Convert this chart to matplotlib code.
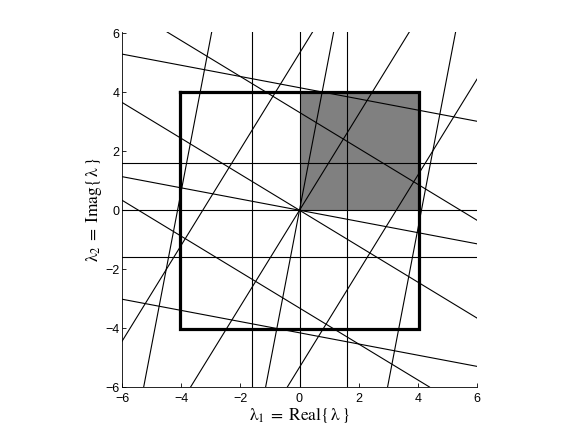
import numpy as np
import matplotlib
matplotlib.use("Agg")
import matplotlib.pyplot as plt

# -------------------------------------------------------
# Daten
# -------------------------------------------------------

# Geraden y = m*x + b
slopes = [1.63, 5.24, -0.61, -0.19,
          1.63, 1.63, 5.24, 5.24,
          -0.61, -0.61, -0.19, -0.19]
intercepts = [0.0, 0.0, 0.0, 0.0,
              5.33, -5.33, 21.6, -21.6,
              3.32, -3.32, 4.16, -4.16]

# achsenparallele Linien
vlines_x = [-1.6, 0.0, 1.6]
hlines_y = [-1.6, 0.0, 1.6]

# Quadrat und grau gefuellter Bereich
square_half = 4.03
shade_x = [0.0, 4.03]
shade_y = [0.0, 4.03]

ticks = [-6, -4, -2, 0, 2, 4, 6]

# -------------------------------------------------------
# Plot
# -------------------------------------------------------

plt.rcParams['font.family'] = ['Liberation Sans', 'DejaVu Sans']
plt.rcParams['mathtext.fontset'] = 'stix'

fig = plt.figure(figsize=(5.81, 4.37), dpi=100)
ax = fig.add_axes([122 / 581, 1 - 387 / 437, 355 / 581, 355 / 437])

ax.fill_between(shade_x, shade_y[0], shade_y[1], color='#808080', lw=0, zorder=1)

for m, b in zip(slopes, intercepts):
    ax.axline((0, b), slope=m, color='black', lw=0.8, zorder=2)

for x in vlines_x:
    ax.axvline(x, color='black', lw=0.8, zorder=2)
for y in hlines_y:
    ax.axhline(y, color='black', lw=0.8, zorder=2)

sq = square_half
ax.plot([-sq, sq, sq, -sq, -sq], [sq, sq, -sq, -sq, sq], color='black',
        lw=2.3, solid_joinstyle='miter', zorder=3)

ax.set_xlim(-6, 6)
ax.set_ylim(-6, 6.05)
ax.set_xticks(ticks)
ax.set_yticks(ticks)
ax.tick_params(direction='in', length=3, labelsize=9, width=0.6)
ax.tick_params(axis='x', pad=4)
ax.tick_params(axis='y', pad=2)
ax.spines['top'].set_visible(False)
ax.spines['right'].set_visible(False)
for s in ['left', 'bottom']:
    ax.spines[s].set_linewidth(0.6)

ax.set_xlabel(r'$\mathrm{λ_1\;=\;Real\{\,λ\,\}}$', fontsize=12.5, labelpad=0)
ax.set_ylabel(r'$\mathrm{λ_2\;=\;Imag\{\,λ\,\}}$', fontsize=12.5, labelpad=1)

fig.savefig('out.png', dpi=100)
